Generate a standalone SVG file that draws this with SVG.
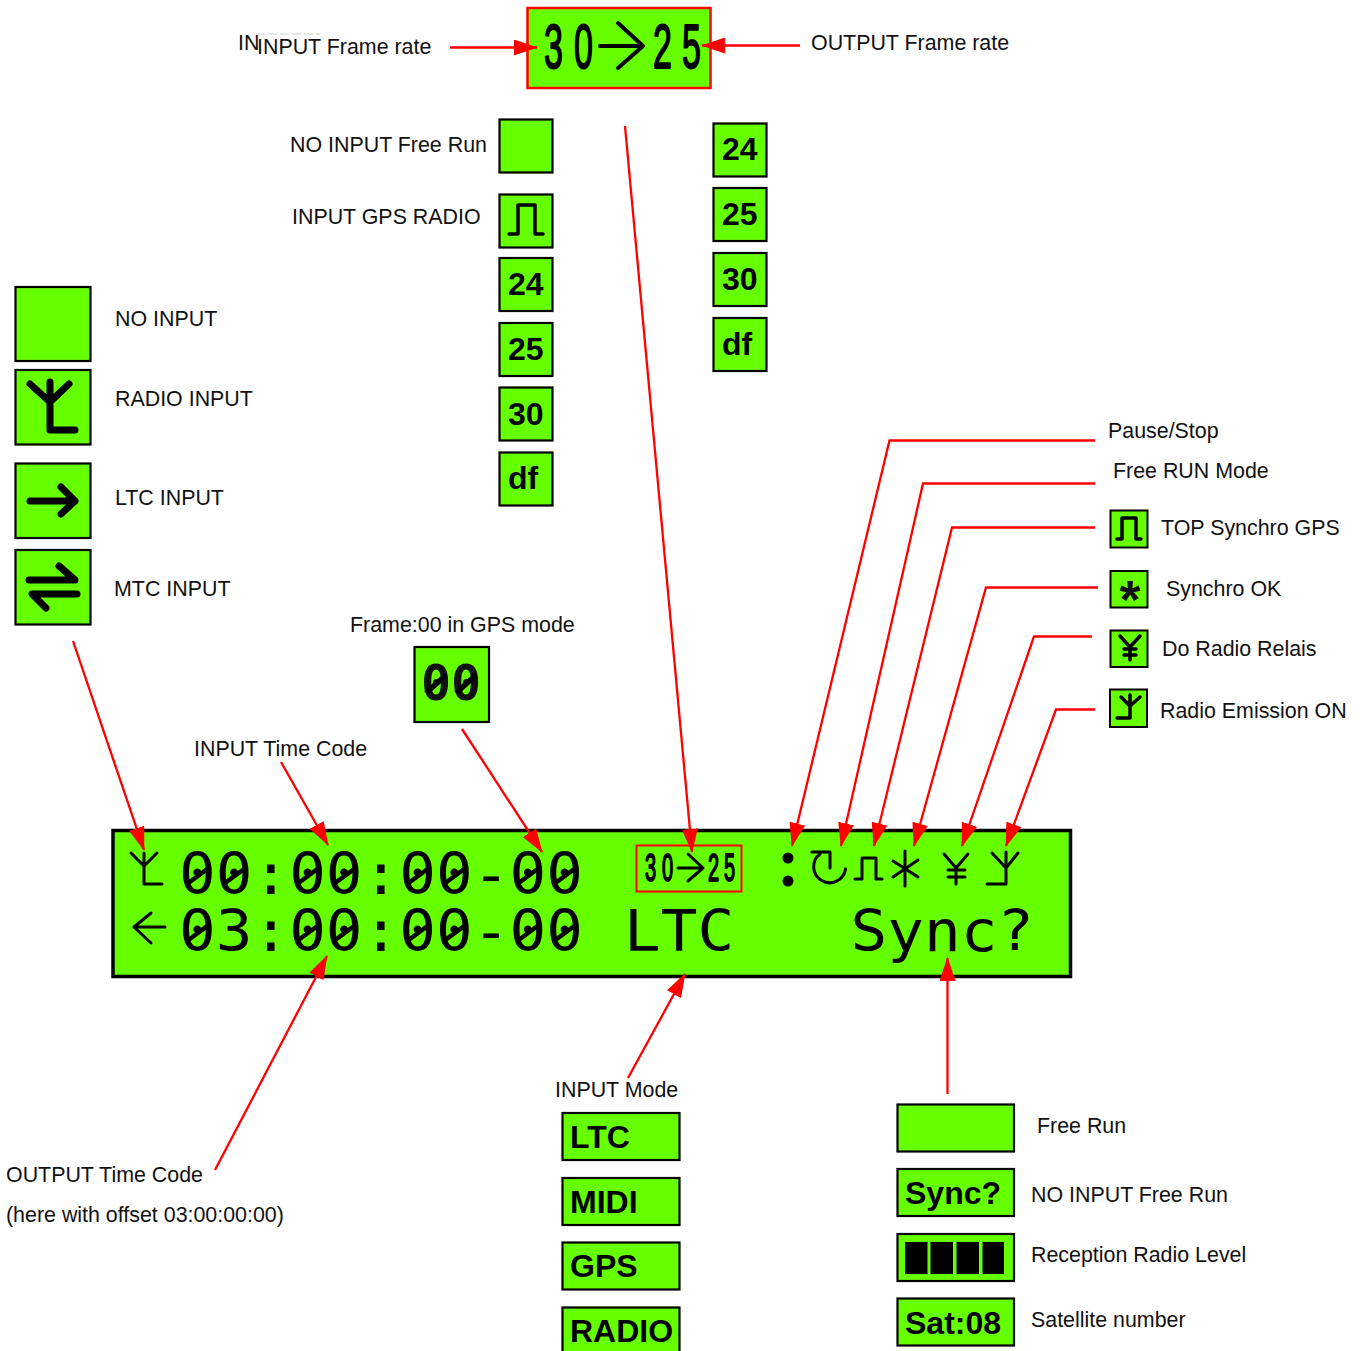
<svg xmlns="http://www.w3.org/2000/svg" width="1365" height="1351" viewBox="0 0 1365 1351">
<style>
text{font-family:"Liberation Sans",Arial,sans-serif;fill:#111}
.l{font-size:21.4px}
.b{font-family:"Liberation Sans",Arial,sans-serif;font-weight:bold;font-size:32px;fill:#000}
.m{font-family:"DejaVu Sans Mono",monospace;font-size:61px;fill:#000}
.box{fill:#66ff00;stroke:#000;stroke-width:2.2}
.g{fill:none;stroke:#000;stroke-linecap:round;stroke-linejoin:round}
.c{fill:none;stroke:#f00;stroke-width:2.3;marker-end:url(#ah)}
.seg{font-family:"Liberation Sans",Arial,sans-serif;fill:#000;stroke:#000;stroke-width:1.500px;vector-effect:non-scaling-stroke;stroke-linejoin:round}
.sl{stroke:#000;stroke-width:4.500;stroke-linecap:butt;fill:none}
</style>
<defs><marker id="ah" markerUnits="userSpaceOnUse" markerWidth="24" markerHeight="16" refX="23" refY="8" orient="auto"><path d="M0,0L24,8L0,16z" fill="#f00"/></marker></defs>
<rect width="1365" height="1351" fill="#fff"/>

<g id="frame-rate-box"><rect x="527.500" y="8" width="183" height="80" fill="#66ff00" stroke="#f00" stroke-width="2.500"/>
<text class="seg" font-size="34" transform="translate(0,68) scale(1,1.85)" x="544 574 620 653 682">30 25</text>
<path class="g" stroke-width="4" d="M600,46H643M618,23L643,46L618,68"/></g>

<g id="label-input-frame-rate"><text class="l" x="238" y="50">IN</text><path d="M256,34H320" stroke="#ccc" stroke-width="1" stroke-dasharray="9 3"/><text class="l" x="257" y="54">INPUT Frame rate</text></g>
<g id="label-output-frame-rate"><text class="l" x="811" y="50">OUTPUT Frame rate</text></g>

<g id="input-free-run"><rect class="box" x="499.500" y="119.500" width="53" height="53"/><text class="l" x="290" y="152">NO INPUT Free Run</text></g>
<g id="input-gps-radio"><rect class="box" x="499.500" y="194.500" width="53" height="53"/><path class="g" stroke-width="3.500" d="M509,234H518V205H535V234H543"/><text class="l" x="292" y="224">INPUT GPS RADIO</text></g>
<g id="in-24"><rect class="box" x="499.500" y="258" width="53" height="53"/><text class="b" x="508" y="295">24</text></g>
<g id="in-25"><rect class="box" x="499.500" y="323" width="53" height="53"/><text class="b" x="508" y="360">25</text></g>
<g id="in-30"><rect class="box" x="499.500" y="387.500" width="53" height="53"/><text class="b" x="508" y="425">30</text></g>
<g id="in-df"><rect class="box" x="499.500" y="452.500" width="53" height="53"/><text class="b" x="508" y="489">df</text></g>
<g id="out-24"><rect class="box" x="713.500" y="123.500" width="53" height="53"/><text class="b" x="722" y="160">24</text></g>
<g id="out-25"><rect class="box" x="713.500" y="188" width="53" height="53"/><text class="b" x="722" y="225">25</text></g>
<g id="out-30"><rect class="box" x="713.500" y="253" width="53" height="53"/><text class="b" x="722" y="290">30</text></g>
<g id="out-df"><rect class="box" x="713.500" y="318" width="53" height="53"/><text class="b" x="722" y="355">df</text></g>

<g id="no-input"><rect class="box" x="15.500" y="287" width="75" height="74"/><text class="l" x="115" y="326">NO INPUT</text></g>
<g id="radio-input"><rect class="box" x="15.500" y="370" width="75" height="74.500"/><path class="g" stroke-width="7" d="M50,382V430H75M30,384L50,402L69,384"/><text class="l" x="115" y="406">RADIO INPUT</text></g>
<g id="ltc-input"><rect class="box" x="15.500" y="463.500" width="75" height="74.500"/><path class="g" stroke-width="7" d="M30,501H75M61,487L75,501L61,514"/><text class="l" x="115" y="505">LTC INPUT</text></g>
<g id="mtc-input"><rect class="box" x="15.500" y="550" width="75" height="74.500"/><path class="g" stroke-width="7" d="M29,580H75L59,566M77,594H32L46,608"/><text class="l" x="114" y="596">MTC INPUT</text></g>

<g id="frame-00"><text class="l" x="350" y="632">Frame:00 in GPS mode</text><rect class="box" x="414.500" y="647" width="74.500" height="75"/><text x="421" y="700" font-size="50" font-weight="bold" style="font-family:'DejaVu Sans Mono',monospace" fill="#000">00</text><path d="M426,693L446,675M456,693L476,675" stroke="#000" stroke-width="5.500" fill="none"/></g>
<g id="label-input-tc"><text class="l" x="194" y="756">INPUT Time Code</text></g>

<g id="lcd">
<rect x="113" y="830.500" width="957.500" height="146" fill="#66ff00" stroke="#000" stroke-width="3.500"/>
<text class="m" transform="translate(179,893.500) scale(1,.94)">00:00:00-00</text>
<text class="m" transform="translate(179,950.500) scale(1,.94)">03:00:00-00</text>
<path class="sl" d="M187,884L210,867M223.700,884L246.700,867M297.100,884L320.100,867M333.800,884L356.800,867M407.200,884L430.200,867M443.900,884L466.900,867M517.300,884L540.300,867M554,884L577,867M187,941L210,924M297.100,941L320.100,924M333.800,941L356.800,924M407.200,941L430.200,924M443.900,941L466.900,924M517.300,941L540.300,924M554,941L577,924"/>
<text class="m" transform="translate(624,950.500) scale(1,.94)">LTC</text>
<text class="m" transform="translate(850.500,950.500) scale(1,.94)">Sync?</text>
<path class="g" stroke-width="3" d="M144,853V884H162M131,853L144,866L157,853"/>
<path class="g" stroke-width="3" d="M165,927H134M151,913L134,927L151,943"/>
<rect x="636.500" y="845.500" width="105" height="46" fill="none" stroke="#f00" stroke-width="2"/>
<text class="seg" font-size="20" transform="translate(0,881) scale(1,1.9)" x="645 662 685 708 724">30 25</text>
<path class="g" stroke-width="3" d="M678,868H703M688,854L703,868L688,881"/>
<circle cx="788" cy="858" r="5.500" fill="#000"/><circle cx="788" cy="881" r="5.500" fill="#000"/>
<path class="g" stroke-width="3" d="M812,852H830V868M820,854A16,16 0 1 0 845.500,869"/>
<path class="g" stroke-width="3" d="M855,879H862V858H876V879H882"/>
<path class="g" stroke-width="3" d="M905,851V886M893,861L918,877M893,877L918,860"/>
<path class="g" stroke-width="3" d="M944,854L956,868L968,854M956,868V884M948,870H965M948,877H965"/>
<path class="g" stroke-width="3" d="M1006,852V884H987M992,853L1006,868L1018,853"/>
</g>

<g id="icon-top-synchro"><rect x="1110.500" y="510.500" width="37" height="37" fill="#66ff00" stroke="#000" stroke-width="2"/><path class="g" stroke-width="3.500" d="M1117,539H1122V518H1136V539H1141"/><text class="l" x="1161" y="535">TOP Synchro GPS</text></g>
<g id="icon-synchro-ok"><rect x="1110.500" y="571" width="37" height="36.500" fill="#66ff00" stroke="#000" stroke-width="2"/><text x="1130" y="618" text-anchor="middle" font-size="54" font-weight="bold" fill="#000">*</text><text class="l" x="1166" y="596">Synchro OK</text></g>
<g id="icon-relais"><rect x="1110.500" y="630.500" width="37" height="36.500" fill="#66ff00" stroke="#000" stroke-width="2"/><path class="g" stroke-width="3.500" d="M1120,636L1130,647L1140,636M1130,647V660M1124,649H1136M1124,655H1136"/><text class="l" x="1162" y="656">Do Radio Relais</text></g>
<g id="icon-emission"><rect x="1110" y="689.500" width="37" height="37.500" fill="#66ff00" stroke="#000" stroke-width="2"/><path class="g" stroke-width="3.500" d="M1121,697L1130,706L1140,697M1130,695V718H1117"/><text class="l" x="1160" y="718">Radio Emission ON</text></g>
<g id="label-pause"><text class="l" x="1108" y="438">Pause/Stop</text></g>
<g id="label-free-run-mode"><text class="l" x="1113" y="478">Free RUN Mode</text></g>

<g id="label-output-tc"><text class="l" x="6" y="1182">OUTPUT Time Code</text><text class="l" x="6" y="1222">(here with offset 03:00:00:00)</text></g>
<g id="label-input-mode"><text class="l" x="555" y="1097">INPUT Mode</text></g>
<g id="mode-ltc"><rect class="box" x="562.500" y="1113" width="117" height="47"/><text class="b" x="570" y="1148">LTC</text></g>
<g id="mode-midi"><rect class="box" x="562.500" y="1178" width="117" height="47"/><text class="b" x="570" y="1213">MIDI</text></g>
<g id="mode-gps"><rect class="box" x="562.500" y="1242.500" width="117" height="47"/><text class="b" x="570" y="1277">GPS</text></g>
<g id="mode-radio"><rect class="box" x="562.500" y="1307.500" width="117" height="47"/><text class="b" x="570" y="1342">RADIO</text></g>

<g id="status-free-run"><rect class="box" x="897.500" y="1104.500" width="116.500" height="47"/><text class="l" x="1037" y="1133">Free Run</text></g>
<g id="status-sync"><rect class="box" x="897.500" y="1169" width="116.500" height="47"/><text class="b" x="905" y="1204">Sync?</text><text class="l" x="1031" y="1202">NO INPUT Free Run</text></g>
<g id="status-level"><rect class="box" x="897.500" y="1234" width="116.500" height="47"/><path d="M905,1242H927.500V1274H905zM930.500,1242H953V1274H930.500zM956.500,1242H979V1274H956.500zM982.500,1242H1004V1274H982.500z" fill="#000"/><text class="l" x="1031" y="1262">Reception Radio Level</text></g>
<g id="status-sat"><rect class="box" x="897.500" y="1298.500" width="116.500" height="47"/><text class="b" x="905" y="1334">Sat:08</text><text class="l" x="1031" y="1327">Satellite number</text></g>

<g id="connectors">
<path class="c" d="M450,47.500H537"/>
<path class="c" d="M800,45.500H702"/>
<path class="c" d="M625,126L692,852"/>
<path class="c" d="M73,641L144,850"/>
<path class="c" d="M281,762L328,845"/>
<path class="c" d="M462,729L542,852"/>
<path class="c" d="M215,1170L327,956"/>
<path class="c" d="M628,1078L685,974"/>
<path class="c" d="M947.500,1094V958"/>
<path class="c" d="M1095,440.500H889.500L792,846"/>
<path class="c" d="M1095,483.500H923L841,846"/>
<path class="c" d="M1095,527.500H952L874,846"/>
<path class="c" d="M1098,587.500H986L914,846"/>
<path class="c" d="M1092,636.500H1034L962,846"/>
<path class="c" d="M1095,709.500H1056L1006,846"/>
</g>
</svg>
